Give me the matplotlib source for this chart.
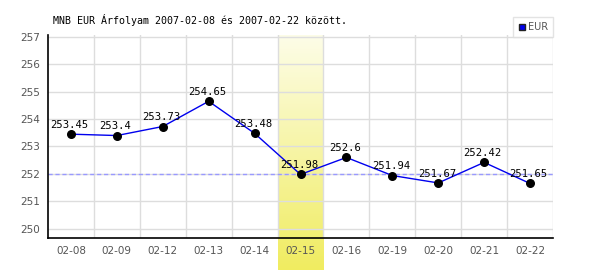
import matplotlib.pyplot as plt
import numpy as np
from matplotlib.colors import LinearSegmentedColormap

dates = ["02-08", "02-09", "02-12", "02-13", "02-14", "02-15",
         "02-16", "02-19", "02-20", "02-21", "02-22"]
eur = [253.45, 253.4, 253.73, 254.65, 253.48, 251.98,
       252.6, 251.94, 251.67, 252.42, 251.65]
labels = ["253.45", "253.4", "253.73", "254.65", "253.48", "251.98",
          "252.6", "251.94", "251.67", "252.42", "251.65"]
highlight = 5  # 02-15
y_ticks = [250, 251, 252, 253, 254, 255, 256, 257]

mono = "DejaVu Sans Mono"
ymin, ymax = 249.66, 257.07

fig = plt.figure(figsize=(6, 2.7), dpi=100)
ax = fig.add_axes([48 / 600, 32 / 270, 505 / 600, 203 / 270])
xs = np.arange(len(dates))
ax.set_xlim(-0.5, len(dates) - 0.5)
ax.set_ylim(ymin, ymax)

# yellow gradient column for the selected day, runs down to the figure edge
fig_bottom = ymin - 32 / (203 / (ymax - ymin))
grad = np.linspace(0, 1, 256).reshape(-1, 1)
cmap = LinearSegmentedColormap.from_list("hl", ["#fdfde8", "#f0ec60"])
ax.imshow(grad, cmap=cmap, aspect="auto", origin="upper",
          extent=[highlight - 0.5, highlight + 0.5, fig_bottom, ymax],
          clip_on=False, zorder=0)

for b in np.arange(-0.5, len(dates), 1.0)[1:]:
    ax.axvline(b, color="#dddddd", lw=1, zorder=1)
for t in y_ticks:
    ax.axhline(t, color="#dddddd", lw=1, zorder=1)

ax.axhline(eur[highlight], color="#9999ff", lw=1, ls=(0, (3, 2)), zorder=2)

ax.plot(xs, eur, color="#0000ee", lw=1, zorder=3)
ax.scatter(xs, eur, s=30, color="black", zorder=4)
for x, v, s in zip(xs, eur, labels):
    ax.annotate(s, (x, v), xytext=(-1, 3), textcoords="offset points",
                ha="center", va="bottom", fontsize=7.6, family=mono,
                color="black", zorder=5)

ax.set_xticks(xs)
ax.set_xticklabels(dates)
ax.set_yticks(y_ticks)
ax.tick_params(length=0, labelsize=7.5, colors="#555555", pad=6)
for side in ("top", "right"):
    ax.spines[side].set_visible(False)
for side in ("left", "bottom"):
    ax.spines[side].set_color("black")
    ax.spines[side].set_linewidth(1.2)

fig.text(53 / 600, 1 - 20 / 270, "MNB EUR Árfolyam 2007-02-08 és 2007-02-22 között.",
         family=mono, fontsize=7.2, va="center", ha="left")

# legend box
leg = ax.legend(handles=[plt.Line2D([], [], marker="s", ls="", color="#0000ee",
                                    markeredgecolor="#222222", markersize=5)],
                labels=["EUR"], loc="lower right", bbox_to_anchor=(1.0, 0.99),
                borderaxespad=0, frameon=True, fancybox=False, fontsize=7,
                handletextpad=0.2, borderpad=0.5, handlelength=0.8)
leg.get_frame().set_edgecolor("#dddddd")
for t in leg.get_texts():
    t.set_color("#555555")

fig.savefig("out.png", dpi=100)
